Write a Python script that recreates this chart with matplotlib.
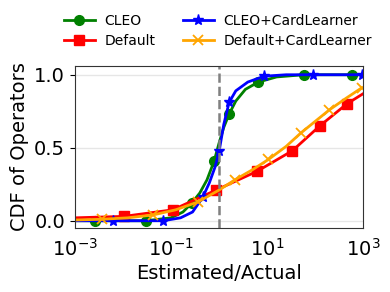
#!/usr/bin/env python3
import matplotlib
matplotlib.use('Agg')
import matplotlib.pyplot as plt
import numpy as np

# CDF of estimated/actual ratio, x given as log10(ratio)
cleo_logx = [-3.0, -2.58, -2.0, -1.52, -1.0, -0.75, -0.57, -0.4, -0.25, -0.10,
             0.0, 0.1, 0.21, 0.35, 0.55, 0.82, 1.2, 1.76, 2.76, 3.0]
cleo_cdf = [0.0, 0.0, 0.0, 0.0, 0.02, 0.06, 0.12, 0.19, 0.28, 0.41,
            0.53, 0.64, 0.73, 0.82, 0.9, 0.95, 0.985, 1.0, 1.0, 1.0]
cleo_marks = [1, 3, 6, 9, 12, 15, 17, 18]

cl_logx = [-3.0, -2.2, -1.6, -1.16, -0.8, -0.55, -0.34, -0.2, -0.08, 0.005,
           0.1, 0.21, 0.35, 0.6, 0.94, 1.4, 1.95, 2.97]
cl_cdf = [0.0, 0.0, 0.0, 0.0, 0.02, 0.06, 0.16, 0.26, 0.37, 0.48,
          0.66, 0.81, 0.89, 0.95, 0.99, 1.0, 1.0, 1.0]
cl_marks = [1, 3, 6, 9, 11, 14, 16, 17]

default_logx = [-3.0, -1.98, -0.96, -0.06, 0.80, 1.53, 2.10, 2.66, 3.0]
default_cdf = [0.02, 0.03, 0.075, 0.21, 0.34, 0.48, 0.65, 0.80, 0.87]
default_marks = [1, 2, 3, 4, 5, 6, 7]

dcl_logx = [-3.0, -2.44, -1.9, -1.37, -0.9, -0.43, 0.0, 0.33, 0.7, 1.03,
            1.4, 1.70, 2.0, 2.30, 2.65, 2.97]
dcl_cdf = [0.005, 0.01, 0.02, 0.04, 0.075, 0.13, 0.21, 0.28, 0.35, 0.42,
           0.51, 0.60, 0.68, 0.76, 0.84, 0.91]
dcl_marks = [1, 3, 5, 7, 9, 11, 13, 15]

fig = plt.figure(figsize=(3.9, 2.92), dpi=100)
ax = plt.axes([0.192, 0.219, 0.739, 0.555])

ax.plot(10 ** np.array(cleo_logx), cleo_cdf, color='green', marker='o',
        markersize=7, linewidth=2, markevery=cleo_marks, label='CLEO')
ax.plot(10 ** np.array(default_logx), default_cdf, color='red', marker='s',
        markersize=7, linewidth=2, markevery=default_marks, label='Default')
ax.plot(10 ** np.array(cl_logx), cl_cdf, color='blue', marker='*',
        markersize=8, linewidth=2, markevery=cl_marks,
        label='CLEO+CardLearner')
ax.plot(10 ** np.array(dcl_logx), dcl_cdf, color='orange', marker='x',
        markersize=7, markeredgewidth=1.3, linewidth=2, markevery=dcl_marks,
        label='Default+CardLearner')

ax.axvline(1, color='gray', linestyle='--', linewidth=1.8)

ax.set_xscale('log')
ax.set_xlim(1e-3, 1e3)
ax.set_ylim(-0.05, 1.06)
ax.set_xticks([1e-3, 1e-1, 1e1, 1e3])
ax.minorticks_off()
ax.set_yticks([0.0, 0.5, 1.0])
ax.grid(axis='y', color='#e6e6e6', linewidth=1)
ax.tick_params(axis='x', length=0, labelsize=14, pad=7)
ax.tick_params(axis='y', labelsize=14)
for s in ax.spines.values():
    s.set_color('#333333')

ax.set_xlabel('Estimated/Actual', fontsize=14, labelpad=3)
ax.set_ylabel('CDF of Operators', fontsize=14)

ax.legend(loc='center', bbox_to_anchor=(218 / 390, 1 - 31 / 292),
          bbox_transform=fig.transFigure, ncol=2, frameon=False,
          fontsize=10, columnspacing=2.0, handlelength=2.2,
          handletextpad=0.7, labelspacing=0.4)

plt.savefig('out.png', dpi=100)
